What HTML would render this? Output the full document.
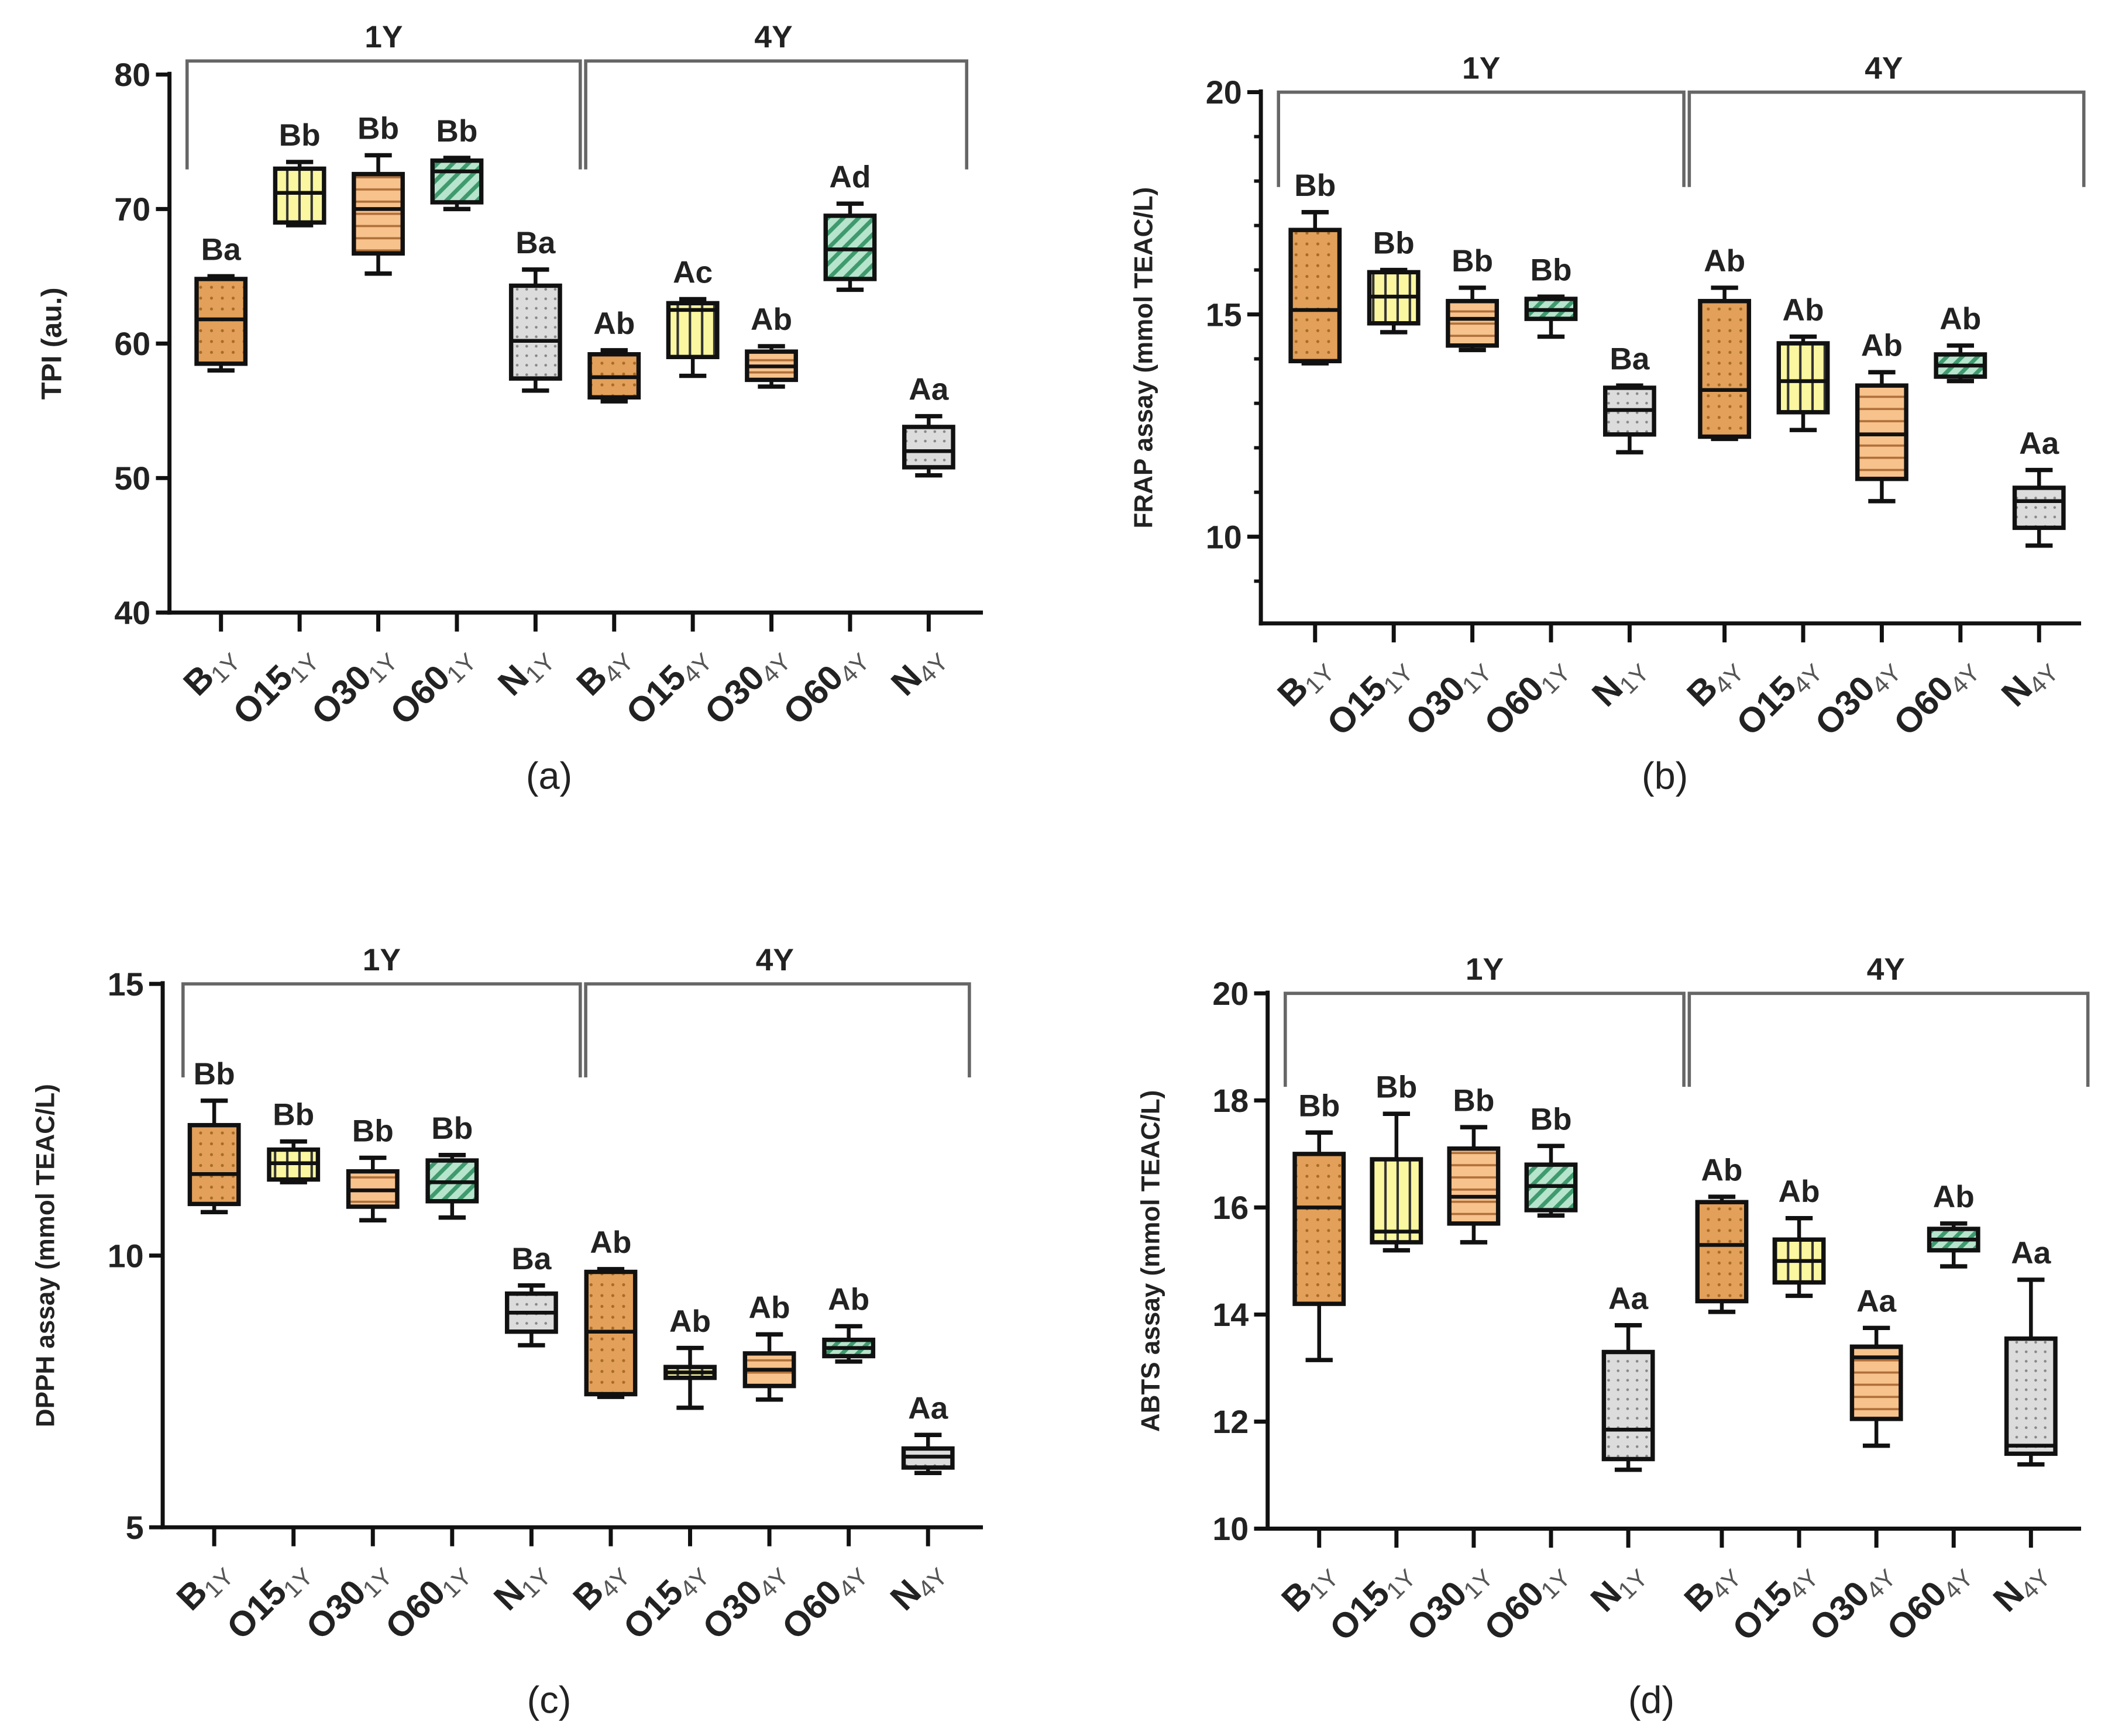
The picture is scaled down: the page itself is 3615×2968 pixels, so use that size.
<!DOCTYPE html>
<html><head><meta charset="utf-8"><style>
html,body{margin:0;padding:0;background:#fff}
svg{display:block}
text{font-family:"Liberation Sans",Arial,sans-serif}
</style></head><body>
<svg id="fig" width="3615" height="2968" viewBox="0 0 1560 1281" preserveAspectRatio="none" xmlns="http://www.w3.org/2000/svg">
<defs>
<pattern id="pB" width="8" height="8" patternUnits="userSpaceOnUse"><rect width="8" height="8" fill="#e2a05a"/><circle cx="4" cy="4" r="1.1" fill="#a86a25"/></pattern>
<pattern id="pO15" width="9" height="9" patternUnits="userSpaceOnUse"><rect width="9" height="9" fill="#fbf7a0"/><rect x="4" width="1.8" height="9" fill="#333"/></pattern>
<pattern id="pO30" width="9" height="9" patternUnits="userSpaceOnUse"><rect width="9" height="9" fill="#f8c28c"/><rect y="4" width="9" height="1.6" fill="#b0703a"/></pattern>
<pattern id="pO60" width="8" height="8" patternUnits="userSpaceOnUse" patternTransform="rotate(45)"><rect width="8" height="8" fill="#b6e4cc"/><rect x="0" width="3" height="8" fill="#3f9a6e"/></pattern>
<pattern id="pN" width="7" height="7" patternUnits="userSpaceOnUse"><rect width="7" height="7" fill="#dcdcdc"/><circle cx="3.5" cy="3.5" r="1" fill="#888"/></pattern>
</defs>
</svg>
<script>
// ---- data ----
const categories = ["B","O15","O30","O60","N","B","O15","O30","O60","N"];
const subs = ["1Y","1Y","1Y","1Y","1Y","4Y","4Y","4Y","4Y","4Y"];
const fills = ["pB","pO15","pO30","pO60","pN","pB","pO15","pO30","pO60","pN"];
// [whiskerLow, q1, median, q3, whiskerHigh]
const tpiValues = [[58,58.5,61.8,64.8,65],[68.8,69,71.2,73,73.5],[65.2,66.7,70,72.6,74],[70,70.5,72.8,73.6,73.8],[56.5,57.4,60.2,64.3,65.5],[55.7,56,57.5,59.2,59.5],[57.6,59,62.5,63,63.3],[56.8,57.3,58.3,59.4,59.8],[64,64.8,67,69.5,70.4],[50.2,50.8,52,53.8,54.6]];
const tpiLabels = ["Ba","Bb","Bb","Bb","Ba","Ab","Ac","Ab","Ad","Aa"];
const frapValues = [[13.9,13.95,15.1,16.9,17.3],[14.6,14.8,15.4,15.95,16],[14.2,14.3,14.9,15.3,15.6],[14.5,14.9,15.1,15.35,15.4],[11.9,12.3,12.85,13.35,13.4],[12.2,12.25,13.3,15.3,15.6],[12.4,12.8,13.5,14.35,14.5],[10.8,11.3,12.3,13.4,13.7],[13.5,13.6,13.85,14.1,14.3],[9.8,10.2,10.8,11.1,11.5]];
const frapLabels = ["Bb","Bb","Bb","Bb","Ba","Ab","Ab","Ab","Ab","Aa"];
const dpphValues = [[10.8,10.95,11.5,12.4,12.85],[11.35,11.4,11.7,11.95,12.1],[10.65,10.9,11.2,11.55,11.8],[10.7,11,11.35,11.75,11.85],[8.35,8.6,8.95,9.3,9.45],[7.4,7.45,8.6,9.7,9.75],[7.2,7.75,7.85,7.95,8.3],[7.35,7.6,7.9,8.2,8.55],[8.05,8.15,8.3,8.45,8.7],[6,6.1,6.3,6.45,6.7]];
const dpphLabels = ["Bb","Bb","Bb","Bb","Ba","Ab","Ab","Ab","Ab","Aa"];
const abtsValues = [[13.15,14.2,16,17,17.4],[15.2,15.35,15.55,16.9,17.75],[15.35,15.7,16.2,17.1,17.5],[15.85,15.95,16.4,16.8,17.15],[11.1,11.3,11.85,13.3,13.8],[14.05,14.25,15.3,16.1,16.2],[14.35,14.6,15,15.4,15.8],[11.55,12.05,13.2,13.4,13.75],[14.9,15.2,15.4,15.6,15.7],[11.2,11.4,11.55,13.55,14.65]];
const abtsLabels = ["Bb","Bb","Bb","Bb","Aa","Ab","Ab","Aa","Ab","Aa"];
const tpiTicks = [40,50,60,70,80];
const frapTicks = [10,15,20];
const dpphTicks = [5,10,15];
const abtsTicks = [10,12,14,16,18,20];

const NS="http://www.w3.org/2000/svg";
const svg=document.getElementById('fig');
function mk(tag,attrs,parent){const e=document.createElementNS(NS,tag);for(const k in attrs)e.setAttribute(k,attrs[k]);(parent||svg).appendChild(e);return e;}

const panels=[
 {id:"a",vals:tpiValues,labels:tpiLabels,ticks:tpiTicks,minor:[],min:40,max:80,ax:125,top:55,bot:452,right:725,x0:163,dx:58,x4:0,title:"TPI (au.)",brY:45,brL:138,brM:428,brR:713,brD:125,cap:[405,582]},
 {id:"b",vals:frapValues,labels:frapLabels,ticks:frapTicks,minor:[9,11,12,13,14,16,17,18,19],min:8.05,max:20,ax:930,top:68,bot:460,right:1535,x0:970,dx:58,x4:12,title:"FRAP assay (mmol TEAC/L)",brY:68,brL:943,brM:1242,brR:1537,brD:138,cap:[1228,582]},
 {id:"c",vals:dpphValues,labels:dpphLabels,ticks:dpphTicks,minor:[],min:5,max:15,ax:120,top:726,bot:1127,right:725,x0:158,dx:58.5,x4:0,title:"DPPH assay (mmol TEAC/L)",brY:726,brL:135,brM:428,brR:715,brD:795,cap:[405,1264]},
 {id:"d",vals:abtsValues,labels:abtsLabels,ticks:abtsTicks,minor:[],min:10,max:20,ax:935,top:733,bot:1128,right:1535,x0:973,dx:57,x4:12,title:"ABTS  assay (mmol TEAC/L)",brY:733,brL:948,brM:1242,brR:1540,brD:802,cap:[1218,1264]}
];

panels.forEach(p=>{
 const g=mk('g',{});
 
 
 const y=v=>p.bot-(v-p.min)/(p.max-p.min)*(p.bot-p.top);
 const x=i=>p.x0+i*p.dx+(i>=5?p.x4:0);
 const ya=mk('line',{x1:p.ax,y1:p.top-2,x2:p.ax,y2:p.bot+1.5,stroke:'#111','stroke-width':3},g);
 
 
 const xa=mk('line',{x1:p.ax-1.5,y1:p.bot,x2:p.right,y2:p.bot,stroke:'#111','stroke-width':3},g);
 
 
 p.ticks.forEach(t=>{
  mk('line',{x1:p.ax-10,y1:y(t),x2:p.ax,y2:y(t),stroke:'#111','stroke-width':3},g);
  const tl=mk('text',{x:p.ax-14,y:y(t)+8.5,'text-anchor':'end','font-size':24,'font-weight':'bold',fill:'#222'},g);
  tl.textContent=t;
  
  
 });
 p.minor.forEach(t=>mk('line',{x1:p.ax-5,y1:y(t),x2:p.ax,y2:y(t),stroke:'#111','stroke-width':2.5},g));
 const yt=mk('text',{x:0,y:0,transform:`translate(${p.ax-80},${(p.top+p.bot)/2}) rotate(-90)`,'text-anchor':'middle','font-size':p.id==='a'?21:19,'font-weight':'bold',fill:'#222'},g);
 yt.textContent=p.title;
 
 
 const br=mk('path',{d:`M${p.brL},${p.brD} V${p.brY} H${p.brM} V${p.brD} M${p.brM+4},${p.brD} V${p.brY} H${p.brR} V${p.brD}`,fill:'none',stroke:'#666','stroke-width':2.4},g);
 
 
 [["1Y",(p.brL+p.brM)/2],["4Y",(p.brM+p.brR)/2]].forEach(([s,cx])=>{
  const t=mk('text',{x:cx,y:p.brY-10,'text-anchor':'middle','font-size':23,'font-weight':'bold',fill:'#222'},g);
  t.textContent=s;
  
  
 });
 p.vals.forEach((v,i)=>{
  const cx=x(i),w=36;
  mk('line',{x1:cx,y1:p.bot,x2:cx,y2:p.bot+14,stroke:'#111','stroke-width':3},g);
  const bg=mk('g',{},g);
  
  
  mk('line',{x1:cx,y1:y(v[0]),x2:cx,y2:y(v[4]),stroke:'#111','stroke-width':2.8},bg);
  mk('line',{x1:cx-10,y1:y(v[0]),x2:cx+10,y2:y(v[0]),stroke:'#111','stroke-width':3.2},bg);
  mk('line',{x1:cx-10,y1:y(v[4]),x2:cx+10,y2:y(v[4]),stroke:'#111','stroke-width':3.2},bg);
  mk('rect',{x:cx-w/2,y:y(v[3]),width:w,height:Math.max(2,y(v[1])-y(v[3])),fill:`url(#${fills[i]})`,stroke:'#111','stroke-width':3.2},bg);
  mk('line',{x1:cx-w/2,y1:y(v[2]),x2:cx+w/2,y2:y(v[2]),stroke:'#111','stroke-width':2.8},bg);
  const lb=mk('text',{x:cx,y:y(v[4])-12,'text-anchor':'middle','font-size':23,'font-weight':'bold',fill:'#222'},g);
  lb.textContent=p.labels[i];
  
  
  const xl=mk('text',{x:0,y:0,transform:`translate(${cx+12},${p.bot+34}) rotate(-45)`,'text-anchor':'end','font-size':26,'font-weight':'bold',fill:'#222'},g);
  
  
  const t1=mk('tspan',{},xl);t1.textContent=categories[i];
  const t2=mk('tspan',{'font-size':18,'font-weight':'normal',fill:'#555',dy:5},xl);t2.textContent=subs[i];
 });
 const cap=mk('text',{x:p.cap[0],y:p.cap[1],'text-anchor':'middle','font-size':28,fill:'#222','font-family':'Liberation Serif, serif'},g);
 cap.textContent='('+p.id+')';
 
 
});
</script>
</body></html>
